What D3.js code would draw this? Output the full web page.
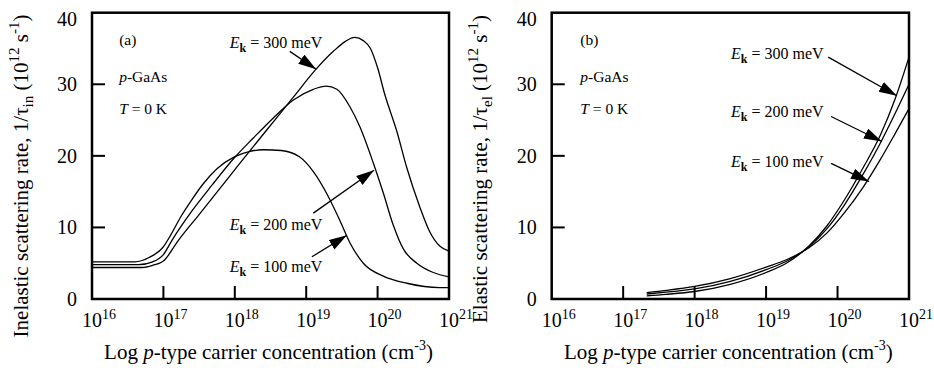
<!DOCTYPE html>
<html><head><meta charset="utf-8">
<script src="https://cdn.jsdelivr.net/npm/d3@7"></script>
<style>
body{margin:0;background:#fff}
svg{display:block}
text{font-family:"Liberation Serif","Times New Roman",serif;fill:#000}
</style>
</head><body>
<svg id="c" width="934" height="368"></svg>
<script>
// ---------- data ----------
const xExponents = [16, 17, 18, 19, 20, 21];
const yTickValues = [0, 10, 20, 30, 40];
const energyLabels = ["300", "200", "100"];

// (a) inelastic scattering rate  [log10 p, rate]
const inel300 = [[16,4.4],[16.7,4.4],[16.85,4.7],[17.0,5.3],[17.21,8.2],[17.5,11.8],[17.82,15.8],[18.05,18.7],[18.3,21.8],[18.56,25.0],[18.82,28.2],[19.12,31.9],[19.38,34.6],[19.55,36.0],[19.68,36.55],[19.8,36.1],[19.9,35.0],[20.0,32.3],[20.1,28.6],[20.27,23.4],[20.41,18.3],[20.59,12.9],[20.73,9.4],[20.87,7.4],[21,6.7]];
const inel200 = [[16,4.8],[16.65,4.8],[16.85,5.2],[17.0,6.2],[17.12,8.2],[17.4,12.3],[17.68,15.9],[18.0,19.8],[18.26,22.5],[18.54,25.3],[18.82,27.8],[19.1,29.3],[19.28,29.75],[19.43,29.3],[19.61,26.9],[19.75,24.1],[19.94,19.0],[20.08,14.8],[20.22,10.3],[20.36,7.0],[20.55,5.0],[20.78,3.7],[21,3.1]];
const inel100 = [[16,5.2],[16.6,5.2],[16.8,5.8],[17.0,7.3],[17.1,8.9],[17.25,11.6],[17.4,13.9],[17.55,16.0],[17.75,18.2],[18.0,19.9],[18.2,20.6],[18.4,20.85],[18.65,20.75],[18.9,19.9],[19.1,17.8],[19.3,14.5],[19.47,11.0],[19.61,7.9],[19.8,5.0],[20.08,3.2],[20.41,2.2],[20.87,1.6],[21,1.6]];

// (b) elastic scattering rate  [log10 p, rate]
const el300 = [[17.33,0.45],[17.6,0.65],[18.0,1.05],[18.5,2.05],[19.0,3.7],[19.3,5.1],[19.6,7.4],[19.85,10.2],[20.1,13.9],[20.35,18.2],[20.6,22.9],[20.8,27.8],[21.0,33.8]];
const el200 = [[17.33,0.7],[17.6,0.95],[18.0,1.4],[18.5,2.45],[19.0,4.1],[19.3,5.35],[19.6,7.3],[19.85,9.8],[20.1,13.2],[20.35,17.3],[20.6,21.8],[20.8,25.8],[21.0,30.0]];
const el100 = [[17.33,0.9],[17.6,1.2],[18.0,1.75],[18.5,2.85],[19.0,4.45],[19.3,5.55],[19.6,7.15],[19.85,9.2],[20.1,12.1],[20.35,15.5],[20.6,19.5],[20.8,23.0],[21.0,26.6]];

// ---------- layout ----------
const svg = d3.select("#c");
const plotTop = 12.7, plotBottom = 299;
const defs = svg.append("defs");
defs.append("marker").attr("id","ah").attr("markerUnits","userSpaceOnUse")
  .attr("markerWidth",19).attr("markerHeight",12).attr("refX",18).attr("refY",5.5)
  .attr("orient","auto")
  .append("path").attr("d","M0,0 L18,5.5 L0,11 Z").attr("fill","#000");

function panel(cfg){
  const g = svg.append("g");
  const x = d3.scaleLog().domain([1e16,1e21]).range([cfg.left, cfg.right]);
  const y = d3.scaleLinear().domain([0,40]).range([plotBottom, plotTop]);

  // curves
  const line = d3.line().x(d=>x(Math.pow(10,d[0]))).y(d=>y(d[1])).curve(d3.curveMonotoneX);
  cfg.series.forEach(s=>{
    g.append("path").attr("d",line(s)).attr("fill","none").attr("stroke","#000").attr("stroke-width",1.3);
  });

  // inward ticks
  xExponents.slice(1,-1).forEach(e=>{
    g.append("line").attr("x1",x(Math.pow(10,e))).attr("x2",x(Math.pow(10,e)))
      .attr("y1",plotBottom).attr("y2",plotBottom-13).attr("stroke","#000").attr("stroke-width",2);
  });
  yTickValues.slice(1,-1).forEach(v=>{
    g.append("line").attr("x1",cfg.left).attr("x2",cfg.left+13)
      .attr("y1",y(v)).attr("y2",y(v)).attr("stroke","#000").attr("stroke-width",2);
  });
  // frame
  g.append("rect").attr("x",cfg.left).attr("y",plotTop).attr("width",cfg.right-cfg.left).attr("height",plotBottom-plotTop)
    .attr("fill","none").attr("stroke","#000").attr("stroke-width",2.5);

  // y tick labels
  yTickValues.forEach(v=>{
    g.append("text").attr("x",cfg.left-15).attr("y",y(v)+ (v===40?13:7))
      .attr("text-anchor","end").attr("font-size",20).text(v);
  });
  // x tick labels 10^n
  xExponents.forEach(e=>{
    const px = x(Math.pow(10,e));
    g.append("text").attr("x",px).attr("y",327).attr("text-anchor","middle").attr("font-size",20).text("10");
    g.append("text").attr("x",px+10).attr("y",319).attr("text-anchor","start").attr("font-size",14).text(e);
  });

  // x title
  const xt = g.append("text").attr("x",(cfg.left+cfg.right)/2-2).attr("y",359).attr("text-anchor","middle").attr("font-size",21);
  xt.append("tspan").text("Log ");
  xt.append("tspan").attr("font-style","italic").text("p");
  xt.append("tspan").text("-type carrier concentration (cm");
  xt.append("tspan").attr("font-size",14).attr("dy",-9).text("-3");
  xt.append("tspan").attr("dy",9).text(")");

  // y title
  const yt = g.append("text").attr("transform",`translate(${cfg.titleX},${cfg.titleY}) rotate(-90)`)
    .attr("text-anchor","middle").attr("font-size",21);
  yt.append("tspan").text(cfg.yName + ", 1/τ");
  yt.append("tspan").attr("font-size",15).attr("dy",5).text(cfg.sub);
  yt.append("tspan").attr("dy",-5).text(" (10");
  yt.append("tspan").attr("font-size",15).attr("dy",-9).text("12");
  yt.append("tspan").attr("dy",9).text(" s");
  yt.append("tspan").attr("font-size",15).attr("dy",-9).text("-1");
  yt.append("tspan").attr("dy",9).text(")");

  // panel notes
  const nx = x(Math.pow(10,cfg.noteX));
  g.append("text").attr("x",nx).attr("y",y(35.5)).attr("font-size",15.5).text(cfg.tag);
  const pg = g.append("text").attr("x",nx).attr("y",y(30.3)).attr("font-size",15.5);
  pg.append("tspan").attr("font-style","italic").text("p");
  pg.append("tspan").text("-GaAs");
  const tk = g.append("text").attr("x",nx).attr("y",y(25.9)).attr("font-size",15.5);
  tk.append("tspan").attr("font-style","italic").text("T");
  tk.append("tspan").text(" = 0 K");

  // energy labels and arrows
  cfg.labels.forEach((L,i)=>{
    const t = g.append("text").attr("x",x(Math.pow(10,L.lx))).attr("y",y(L.ly)).attr("font-size",16);
    t.append("tspan").attr("font-style","italic").text("E");
    t.append("tspan").attr("font-weight","bold").attr("font-size",12).attr("dy",4).text("k");
    t.append("tspan").attr("dy",-4).text(" = " + energyLabels[i] + " meV");
    g.append("line").attr("x1",x(Math.pow(10,L.a[0]))).attr("y1",y(L.a[1]))
      .attr("x2",x(Math.pow(10,L.a[2]))).attr("y2",y(L.a[3]))
      .attr("stroke","#000").attr("stroke-width",1.3).attr("marker-end","url(#ah)");
  });
}

panel({left:92, right:449, series:[inel300,inel200,inel100],
  titleX:28, titleY:176, yName:"Inelastic scattering rate", sub:"in",
  tag:"(a)", noteX:16.38,
  labels:[
    {lx:17.93, ly:35.05, a:[18.77,34.6,19.14,32.1]},
    {lx:17.93, ly:9.6,   a:[19.1,12.0,19.95,18.0]},
    {lx:17.93, ly:3.8,   a:[19.08,5.9,19.57,8.9]}
  ]});

panel({left:551.7, right:909, series:[el300,el200,el100],
  titleX:487, titleY:169, yName:"Elastic scattering rate", sub:"el",
  tag:"(b)", noteX:16.40,
  labels:[
    {lx:18.51, ly:33.5, a:[19.87,33.8,20.83,28.4]},
    {lx:18.51, ly:25.4, a:[19.91,25.5,20.62,22.0]},
    {lx:18.51, ly:18.4, a:[19.91,18.95,20.44,16.4]}
  ]});
</script>
</body></html>
